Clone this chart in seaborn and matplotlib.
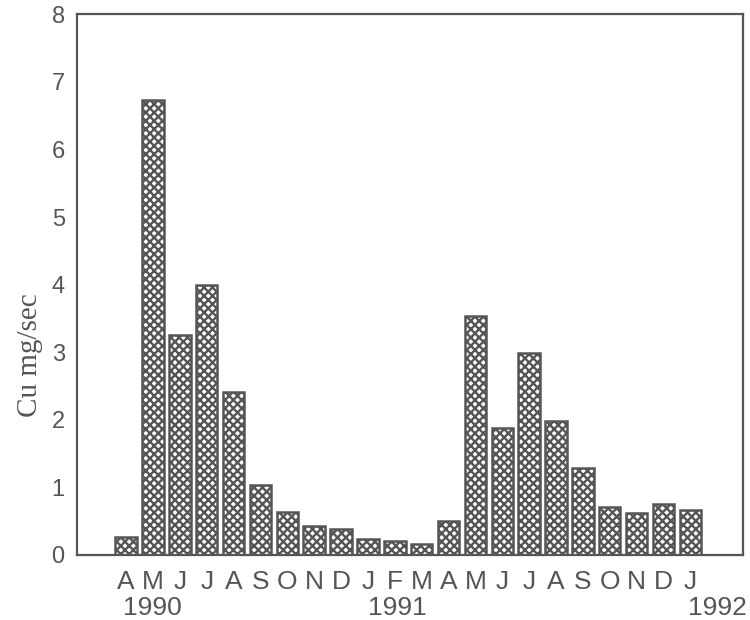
import pandas as pd
import numpy as np
import seaborn as sns
import matplotlib.pyplot as plt

# monthly copper load, Apr 1990 - Jan 1992
months = ["A", "M", "J", "J", "A", "S", "O", "N", "D", "J", "F", "M",
          "A", "M", "J", "J", "A", "S", "O", "N", "D", "J"]
cu = [0.27, 6.73, 3.25, 4.00, 2.41, 1.03, 0.63, 0.43, 0.38, 0.24, 0.20, 0.16,
      0.50, 3.54, 1.88, 2.99, 1.98, 1.28, 0.71, 0.62, 0.75, 0.67]
years = ["1990", "1991", "1992"]
yticks = [0, 1, 2, 3, 4, 5, 6, 7, 8]

sns.set_style("white")
plt.rcParams['font.family'] = ['Liberation Sans', 'DejaVu Sans']
plt.rcParams['hatch.linewidth'] = 1.7
plt.rcParams['hatch.color'] = '#5a5a5a'

grey = '#555555'
df = pd.DataFrame({"period": [f"{i}" for i in range(len(cu))], "cu": cu})

fig = plt.figure(figsize=(7.5, 6.2), dpi=100)
ax = fig.add_axes([0.103, 0.105, 0.888, 0.872])
sns.barplot(data=df, x="period", y="cu", color="white", edgecolor=grey,
            linewidth=1.8, hatch="xxxx", width=0.8, ax=ax)

ax.set_xlim(-1.82, 22.97)
ax.set_ylim(0, 8)
ax.set_yticks(yticks)
ax.set_yticklabels([str(t) for t in yticks], fontsize=17, color=grey)
ax.set_xticks(range(len(months)))
ax.set_xticklabels(months, fontsize=19, color=grey)
ax.tick_params(axis='y', direction='in', length=9, width=1.4, color=grey, pad=9)
ax.tick_params(axis='x', length=0, pad=11)
for s in ax.spines.values():
    s.set_color(grey)
    s.set_linewidth(1.6)

ax.set_xlabel("")
ax.set_ylabel("Cu mg/sec", fontsize=21, color=grey, family='Liberation Serif')
ax.yaxis.set_label_coords(-0.052, 0.37)

# year labels under the month letters
for yr, xpos in zip(years, [0.97, 10.1, 22.0]):
    ax.text(xpos, -0.076, yr, transform=ax.get_xaxis_transform(),
            ha='center', va='top', fontsize=19, color=grey)

plt.savefig("out.png", dpi=100)
